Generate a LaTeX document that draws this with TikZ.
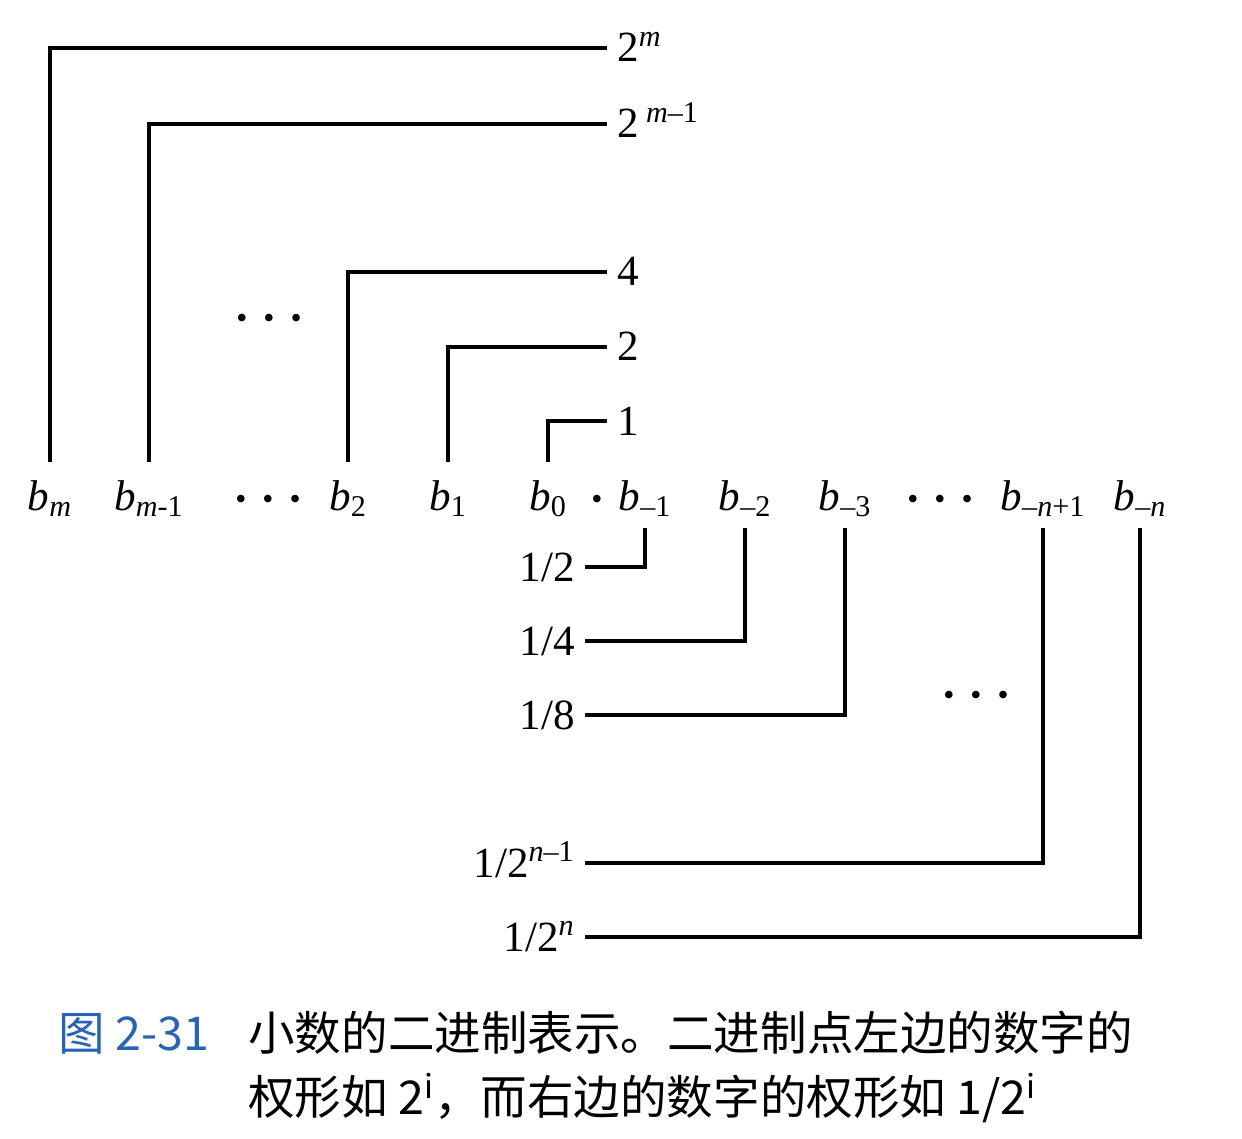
\documentclass[tikz,border=0pt]{standalone}
\usepackage{fontspec}
\setmainfont{Liberation Serif}
\newfontfamily\cjk{Noto Sans CJK SC}
\usepackage{xcolor}
\usepackage{tikz}
\definecolor{figblue}{RGB}{40,100,180}
\newcommand{\dotsym}{{\fontsize{18}{18}\selectfont •}}
\newcommand{\threedots}{\mbox{\dotsym\hspace{0.32cm}\dotsym\hspace{0.32cm}\dotsym}}
\tikzstyle{bit} = [anchor=base, inner xsep=0pt, inner ysep=0.1cm, text height=0.86cm, text depth=0.26cm]
\tikzstyle{weight} = [anchor=west, inner sep=0.2cm, text height=0.56cm, text depth=0pt]
\tikzstyle{frac} = [anchor=east, inner sep=0.2cm, text height=0.56cm, text depth=0pt]
\tikzstyle{dots} = [anchor=base, inner sep=0pt]
\tikzstyle{link} = [line width=1.8pt]
\tikzstyle{caption} = [anchor=base west, inner sep=0pt, font=\cjk\fontsize{26.5}{30}\selectfont]

\begin{document}
\begin{tikzpicture}[x=0.02cm, y=-0.02cm, every node/.style={font=\fontsize{24.5}{28}\selectfont}]
		\useasboundingbox (0,0) rectangle (1242,1139);
		
		\node (Bm) [bit] at (50,510) {\textit{b}\textsubscript{\textit{m}}};
		\node (Bm1) [bit] at (149,510) {\textit{b}\textsubscript{\textit{m}-1}};
		\node (DotsL) [bit] at (268,509) {\threedots};
		\node (B2) [bit] at (348,510) {\textit{b}\textsubscript{2}};
		\node (B1) [bit] at (448,510) {\textit{b}\textsubscript{1}};
		\node (B0) [bit] at (548,510) {\textit{b}\textsubscript{0}};
		\node (Point) [bit] at (597,509) {\dotsym};
		\node (Bn1) [bit] at (645,510) {\textit{b}\textsubscript{–1}};
		\node (Bn2) [bit] at (745,510) {\textit{b}\textsubscript{–2}};
		\node (Bn3) [bit] at (845,510) {\textit{b}\textsubscript{–3}};
		\node (DotsR) [bit] at (940,509) {\threedots};
		\node (Bnn1) [bit] at (1043,510) {\textit{b}\textsubscript{–\textit{n}+1}};
		\node (Bnn) [bit] at (1140,510) {\textit{b}\textsubscript{–\textit{n}}};
		
		\node (Wm) [weight] at (607,48) {2\textsuperscript{\textit{m}}};
		\node (Wm1) [weight] at (607,124) {2\,\textsuperscript{\textit{m}–1}};
		\node (W4) [weight] at (607,272) {4};
		\node (W2) [weight] at (607,347) {2};
		\node (W1) [weight] at (607,421) {1};
		\node (DotsTop) [dots] at (269,328) {\threedots};
		
		\node (F1) [frac] at (585,567) {1/2};
		\node (F2) [frac] at (585,641) {1/4};
		\node (F3) [frac] at (585,715) {1/8};
		\node (DotsBot) [dots] at (976,705) {\threedots};
		\node (Fn1) [frac] at (585,863) {1/2\textsuperscript{\textit{n}–1}};
		\node (Fn) [frac] at (585,937) {1/2\textsuperscript{\textit{n}}};
		
		\draw [link] (Bm.north) |- (Wm.west);
		\draw [link] (Bm1.north) |- (Wm1.west);
		\draw [link] (B2.north) |- (W4.west);
		\draw [link] (B1.north) |- (W2.west);
		\draw [link] (B0.north) |- (W1.west);
		\draw [link] (Bn1.south) |- (F1.east);
		\draw [link] (Bn2.south) |- (F2.east);
		\draw [link] (Bn3.south) |- (F3.east);
		\draw [link] (Bnn1.south) |- (Fn1.east);
		\draw [link] (Bnn.south) |- (Fn.east);
		
		\node (Fig) [caption, text=figblue] at (58,1050) {图 2-31};
		\node (Cap1) [caption] at (248,1050) {小数的二进制表示。二进制点左边的数字的};
		\node (Cap2) [caption] at (248,1114) {权形如 2\textsuperscript{i}，而右边的数字的权形如 1/2\textsuperscript{i}};
	\end{tikzpicture}
\end{document}
